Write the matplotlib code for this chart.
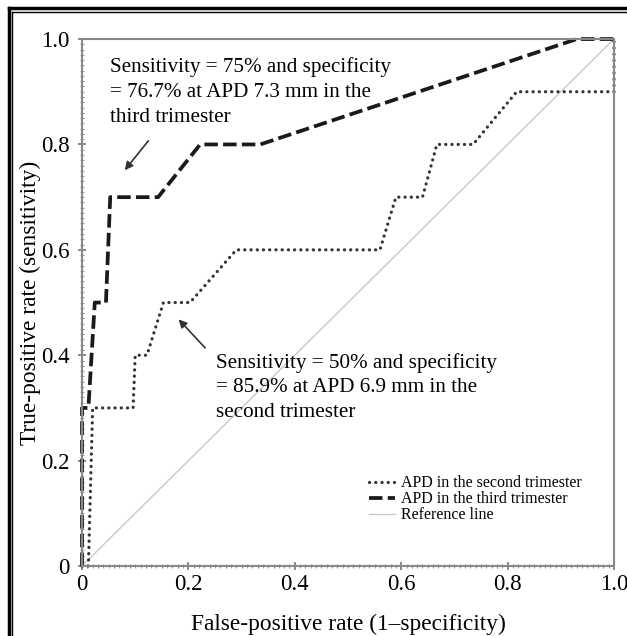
import matplotlib
matplotlib.use('Agg')
from matplotlib import pyplot as plt
from matplotlib.lines import Line2D
from matplotlib.ticker import MultipleLocator

plt.rcParams['font.family'] = ['Liberation Serif', 'DejaVu Serif']

# ROC data
fpr_second = [0, 0.012, 0.02, 0.096, 0.1, 0.122, 0.153, 0.203, 0.29, 0.56, 0.59, 0.64, 0.667, 0.735, 0.817, 1.0, 1.0]
tpr_second = [0, 0, 0.3, 0.3, 0.4, 0.4, 0.5, 0.5, 0.6, 0.6, 0.7, 0.7, 0.8, 0.8, 0.9, 0.9, 1.0]

fpr_third = [0, 0, 0.012, 0.024, 0.045, 0.053, 0.143, 0.222, 0.335, 0.93, 1.0]
tpr_third = [0, 0.3, 0.3, 0.5, 0.5, 0.7, 0.7, 0.8, 0.8, 1.0, 1.0]

ref_line = [0, 1]

tick_values = [0, 0.2, 0.4, 0.6, 0.8, 1.0]
tick_labels = ['0', '0.2', '0.4', '0.6', '0.8', '1.0']

legend_labels = ['APD in the second trimester', 'APD in the third trimester', 'Reference line']

note_third = 'Sensitivity = 75% and specificity\n= 76.7% at APD 7.3 mm in the\nthird trimester'
note_second = 'Sensitivity = 50% and specificity\n= 85.9% at APD 6.9 mm in the\nsecond trimester'

dotted = (0, (0.05, 1.9))
dashed = (0, (3.6, 1.4))

fig = plt.figure(figsize=(6.27, 6.36), dpi=100)
ax = fig.add_axes([0.1308, 0.110, 0.8485, 0.8286])

# Curves

ax.plot(ref_line, ref_line, color='#c8c8c8', lw=1.0)
ax.plot(fpr_second, tpr_second, color='#333333', lw=2.3, linestyle=dotted,
        dash_capstyle='round', clip_on=False)
ax.plot(fpr_third, tpr_third, color='#1a1a1a', lw=2.7, linestyle=dashed, clip_on=False)

# Axes

ax.set_xlim(0, 1)
ax.set_ylim(0, 1)
ax.set_xticks(tick_values)
ax.set_xticklabels(tick_labels)
ax.set_yticks(tick_values)
ax.set_yticklabels(tick_labels)
ax.xaxis.set_minor_locator(MultipleLocator(0.01))
ax.yaxis.set_minor_locator(MultipleLocator(0.01))
ax.tick_params(which='major', direction='inout', length=6, width=1.2, color='#777777',
               labelsize=16.5, pad=3)
ax.tick_params(axis='y', which='major', pad=6)
ax.tick_params(which='minor', direction='inout', length=3, width=0.8, color='#999999')
for s in ax.spines.values():
    s.set_color('#888888')
    s.set_linewidth(1.5)

ax.set_xlabel('False-positive rate (1\u2013specificity)', fontsize=16.8, labelpad=13)
ax.set_ylabel('True-positive rate (sensitivity)', fontsize=16.8, labelpad=0)

# Annotations

ax.annotate('', xy=(0.077, 0.747), xytext=(0.128, 0.811),
            arrowprops=dict(arrowstyle='-|>', color='#333333', lw=1.2, mutation_scale=12))
ax.text(0.053, 0.965, note_third, fontsize=15.2, va='top', ha='left', linespacing=1.42)

ax.annotate('', xy=(0.178, 0.472), xytext=(0.235, 0.41),
            arrowprops=dict(arrowstyle='-|>', color='#333333', lw=1.2, mutation_scale=12))
ax.text(0.252, 0.405, note_second, fontsize=15.2, va='top', ha='left', linespacing=1.42)

# Legend

handles = [
    Line2D([], [], color='#333333', lw=2.3, linestyle=dotted, dash_capstyle='round'),
    Line2D([], [], color='#1a1a1a', lw=2.7, linestyle=dashed),
    Line2D([], [], color='#c8c8c8', lw=1.0),
]
ax.legend(handles, legend_labels, loc='lower left', bbox_to_anchor=(0.525, 0.066),
          frameon=False, fontsize=11.5, handlelength=1.6, handletextpad=0.4,
          labelspacing=0.0, borderpad=0)

# Double frame on the left and top of the figure

fig.add_artist(Line2D([0.014, 0.014], [0, 0.987], transform=fig.transFigure, color='black', lw=2.5))
fig.add_artist(Line2D([0.019, 0.019], [0, 0.981], transform=fig.transFigure, color='black', lw=1.0))
fig.add_artist(Line2D([0.014, 1], [0.987, 0.987], transform=fig.transFigure, color='black', lw=2.5))
fig.add_artist(Line2D([0.019, 1], [0.981, 0.981], transform=fig.transFigure, color='black', lw=1.0))

fig.savefig('out.png', dpi=100)
